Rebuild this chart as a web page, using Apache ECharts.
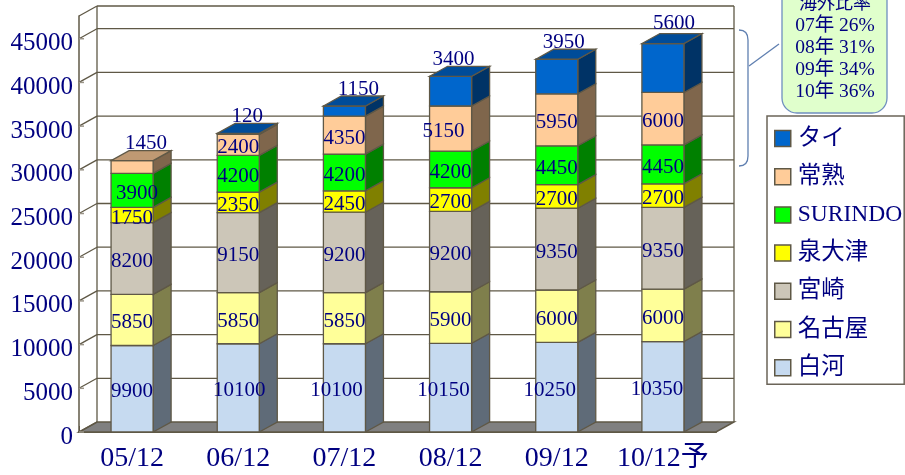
<!DOCTYPE html>
<html>
<head>
<meta charset="utf-8">
<style>html,body{margin:0;padding:0;background:#fff}#c{width:905px;height:475px}</style>
<script src="https://cdn.jsdelivr.net/npm/echarts@6/dist/echarts.min.js"></script>
</head>
<body>
<div id="c"></div>
<script>
var categories = ['05/12','06/12','07/12','08/12','09/12','10/12予'];
var yTicks = [0,5000,10000,15000,20000,25000,30000,35000,40000,45000];
var shirakawa = [9900,10100,10100,10150,10250,10350];
var nagoya    = [5850,5850,5850,5900,6000,6000];
var miyazaki  = [8200,9150,9200,9200,9350,9350];
var izumiotsu = [1750,2350,2450,2700,2700,2700];
var surindo   = [3900,4200,4200,4200,4450,4450];
var joshu     = [1450,2400,4350,5150,5950,6000];
var thai      = [0,120,1150,3400,3950,5600];
var calloutLines = ['海外比率','07年 26%','08年 31%','09年 34%','10年 36%'];

var FONT = '"Liberation Serif","Noto Sans CJK JP",serif';
var NAVY = '#000080';
var LINE = '#5f5846';
var DX = 18, DY = 10, BAR = 0.396;

var stacks = [
  {name:'白河', values:shirakawa, front:'#C6DAF0', side:'#5F6B78', top:'#94A3B4'},
  {name:'名古屋', values:nagoya, front:'#FFFF99', side:'#7F7F4C', top:'#BFBF73'},
  {name:'宮崎', values:miyazaki, front:'#CCC6B8', side:'#666259', top:'#99948A'},
  {name:'泉大津', values:izumiotsu, front:'#FFFF00', side:'#808000', top:'#BFBF00'},
  {name:'SURINDO', values:surindo, front:'#00FF00', side:'#008000', top:'#00BF00'},
  {name:'常熟', values:joshu, front:'#FFCC99', side:'#7F664C', top:'#BF9973'},
  {name:'タイ', values:thai, front:'#0066CC', side:'#003366', top:'#004C99'}
];

// label nudges in pixels, per stack then per category
var labelDx = [
  [0,1,-8,-7,-7,-6],[0,0,0,0,0,0],[0,0,0,0,0,0],[0,0,0,0,0,0],
  [5,0,0,0,0,0],[14,0,0,-7,0,0],[0,9,14,3,7,11]
];
var labelAbove = {'5,0':1, '6,1':1, '6,2':1, '6,3':1, '6,4':1, '6,5':-3};

function base(si, ci){ var s=0; for(var k=0;k<si;k++) s+=stacks[k].values[ci]; return s; }
function isTop(si, ci){ for(var k=si+1;k<stacks.length;k++) if(stacks[k].values[ci]>0) return false; return true; }
function lineStyle(w){ return {stroke:LINE, lineWidth:w||1.3, fill:null}; }

function renderWall(params, api){
  var i = params.dataIndex, v = api.value(0);
  var xr = params.coordSys.x + params.coordSys.width, xl = params.coordSys.x, y = api.coord([0,v])[1];
  var kids = [
    {type:'line', shape:{x1:xl,y1:y,x2:xl+DX,y2:y-DY}, style:lineStyle()},
    {type:'line', shape:{x1:xl,y1:y,x2:xl+5,y2:y}, style:{stroke:'#9a9488',lineWidth:1.5}}
  ];
  if(i>0) kids.push({type:'line', shape:{x1:xl+DX,y1:y-DY,x2:xr+DX,y2:y-DY}, style:lineStyle()});
  if(i===0){
    var yTop = params.coordSys.y;
    kids.unshift({type:'polygon', shape:{points:[[xl,y],[xr,y],[xr+DX,y-DY],[xl+DX,y-DY]]},
      style:{fill:'#808080',stroke:LINE,lineWidth:1.5}});
    kids.push(
      {type:'line', shape:{x1:xl+DX,y1:y-DY,x2:xl+DX,y2:yTop-DY}, style:lineStyle()},
      {type:'line', shape:{x1:xr+DX,y1:y-DY,x2:xr+DX,y2:yTop-DY}, style:lineStyle()},
      {type:'line', shape:{x1:xl+DX,y1:yTop-DY,x2:xr+DX,y2:yTop-DY}, style:lineStyle()},
      {type:'line', shape:{x1:xl,y1:yTop,x2:xl+DX,y2:yTop-DY}, style:lineStyle()}
    );
  }
  return {type:'group', children:kids};
}

function makeBar(si){
  var st = stacks[si];
  return function(params, api){
    var ci = api.value(0), val = api.value(1);
    if(!val) return null;
    var b = base(si,ci);
    var p0 = api.coord([ci,b]), p1 = api.coord([ci,b+val]);
    var w = api.size([1,0])[0]*BAR;
    var x0 = p0[0]-w/2, x1 = p0[0]+w/2, yb = p0[1], yt = p1[1];
    var kids = [
      {type:'polygon', shape:{points:[[x1,yb],[x1+DX,yb-DY],[x1+DX,yt-DY],[x1,yt]]},
        style:{fill:st.side,stroke:LINE,lineWidth:1.3}},
      {type:'rect', shape:{x:x0,y:yt,width:w,height:yb-yt},
        style:{fill:st.front,stroke:LINE,lineWidth:1.3}}
    ];
    if(isTop(si,ci)) kids.push({type:'polygon', shape:{points:[[x0,yt],[x1,yt],[x1+DX,yt-DY],[x0+DX,yt-DY]]},
      style:{fill:st.top,stroke:LINE,lineWidth:1.3}});
    return {type:'group', children:kids};
  };
}

function renderLabel(params, api){
  var si = api.value(0), ci = api.value(1), val = api.value(2);
  if(!val) return null;
  var b = base(si,ci);
  var y, p, above = labelAbove[si+','+ci];
  if(above){
    p = api.coord([ci,b+val]); y = p[1]-17+(above<0?above:0);
  } else {
    p = api.coord([ci,b+val/2]); y = p[1]+3;
  }
  return {type:'text', style:{text:String(val), x:p[0]+labelDx[si][ci], y:y, font:'21px '+FONT,
    fill:NAVY, align:'center', verticalAlign:'middle'}};
}

var series = [{
  name:'walls', type:'custom', silent:true, z:1, renderItem:renderWall,
  data:yTicks.map(function(t){return [t];}), encode:{y:0}
}];
stacks.forEach(function(st,si){
  series.push({
    name:st.name, type:'custom', silent:true, z:3+si, renderItem:makeBar(si),
    itemStyle:{color:st.front},
    data:st.values.map(function(v,ci){return [ci,v];}), encode:{x:0,y:1}
  });
});
var labelData = [];
stacks.forEach(function(st,si){ st.values.forEach(function(v,ci){ labelData.push([si,ci,v]); }); });
series.push({name:'labels', type:'custom', silent:true, z:20, renderItem:renderLabel, data:labelData, encode:{}});

var BR = {stroke:'#5f7fb0',lineWidth:1.3,fill:null};
var graphic = [
  {type:'rect', shape:{x:782,y:-30,width:105,height:143,r:15},
   style:{fill:'#E0FFCC',stroke:'#6f8fbf',lineWidth:1.3}, z:30},
  {type:'bezierCurve', shape:{x1:739,y1:30,cpx1:748,cpy1:30,x2:748,y2:40}, style:BR, z:30},
  {type:'line', shape:{x1:748,y1:40,x2:748,y2:156}, style:BR, z:30},
  {type:'bezierCurve', shape:{x1:748,y1:156,cpx1:748,cpy1:166,x2:739,y2:166}, style:BR, z:30},
  {type:'line', shape:{x1:749,y1:66,x2:779,y2:44}, style:BR, z:30}
];
calloutLines.forEach(function(t,i){
  graphic.push({type:'text', z:31, style:{text:t, x:835, y:4+i*22, align:'center', verticalAlign:'middle',
    font:(i===0?'18px ':'19.5px ')+FONT, fill:NAVY}});
});

var chart = echarts.init(document.getElementById('c'), null, {renderer:'canvas'});
chart.setOption({
  animation:false,
  backgroundColor:'#fff',
  grid:{left:79, right:189, top:16, bottom:43, containLabel:false},
  xAxis:{type:'category', data:categories, boundaryGap:true,
    axisLine:{show:true,lineStyle:{color:LINE,width:2}},
    axisTick:{show:true,inside:true,length:6,alignWithLabel:false,lineStyle:{color:LINE,width:1}},
    axisLabel:{color:NAVY,fontFamily:FONT,fontSize:28,margin:13,interval:0},
    splitLine:{show:false}},
  yAxis:{type:'value', min:0, max:47600, interval:5000,
    axisLine:{show:true,onZero:false,lineStyle:{color:LINE,width:1.5}},
    axisTick:{show:false},
    axisLabel:{color:NAVY,fontFamily:FONT,fontSize:25,margin:6,showMaxLabel:false,
      verticalAlign:'top',lineHeight:10,
      formatter:function(v){return String(v);}},
    splitLine:{show:false}},
  legend:{orient:'vertical', left:767, top:116, padding:[10.5,2,4.5,7],
    data:stacks.map(function(s){return s.name;}).reverse(),
    icon:'rect', itemWidth:16, itemHeight:16, itemGap:14.2,
    selectedMode:false, backgroundColor:'#fff', borderColor:'#6b6458', borderWidth:1.5,
    itemStyle:{borderColor:LINE,borderWidth:1.5},
    textStyle:{color:NAVY,fontFamily:FONT,fontSize:23.5,lineHeight:24,padding:[0,0,0,2]}},
  graphic:graphic,
  series:series
});
</script>
</body>
</html>
